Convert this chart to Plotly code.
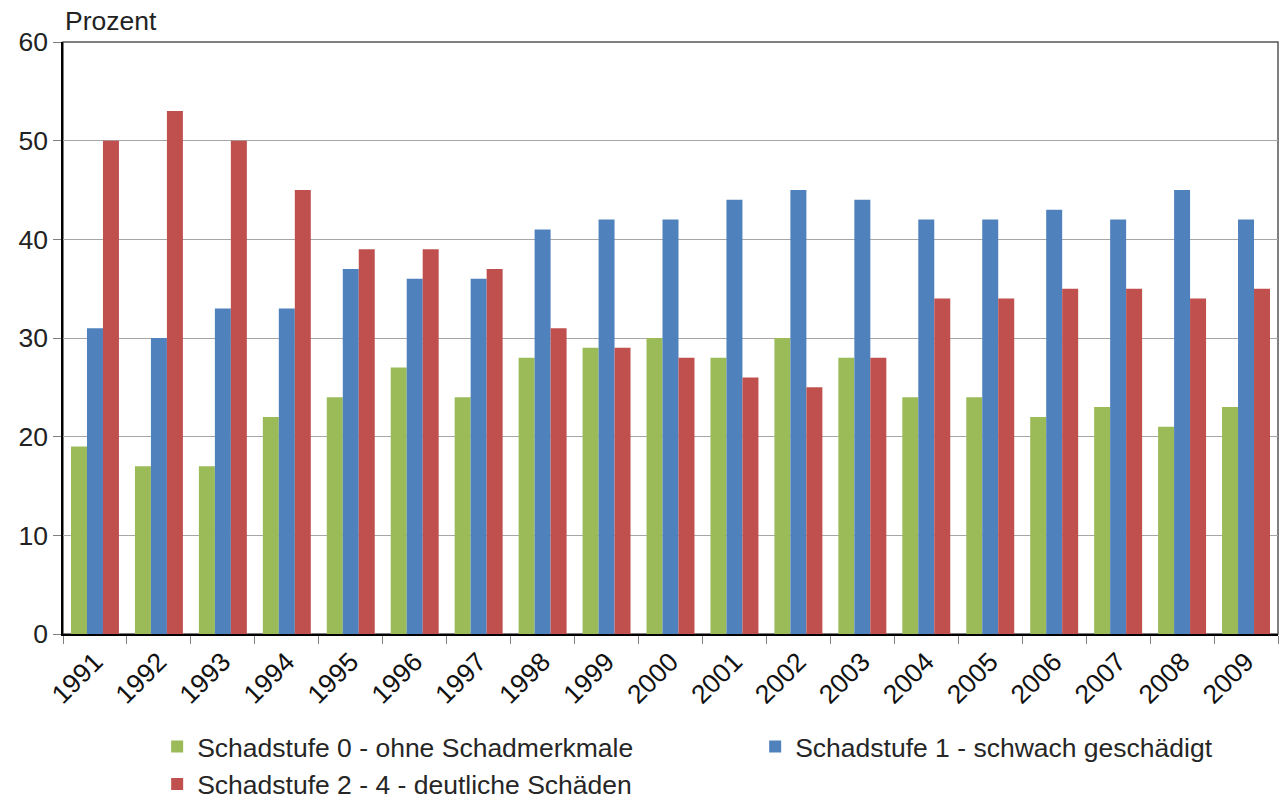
import plotly.graph_objects as go

# Kronenzustand: Anteil der Schadstufen je Erhebungsjahr (Prozent)
jahre = ["1991", "1992", "1993", "1994", "1995", "1996", "1997", "1998", "1999", "2000",
         "2001", "2002", "2003", "2004", "2005", "2006", "2007", "2008", "2009"]
stufe_0 = [19, 17, 17, 22, 24, 27, 24, 28, 29, 30, 28, 30, 28, 24, 24, 22, 23, 21, 23]
stufe_1 = [31, 30, 33, 33, 37, 36, 36, 41, 42, 42, 44, 45, 44, 42, 42, 43, 42, 45, 42]
stufe_2_4 = [50, 53, 50, 45, 39, 39, 37, 31, 29, 28, 26, 25, 28, 34, 34, 35, 35, 34, 35]

namen = ["Schadstufe 0 - ohne Schadmerkmale",
         "Schadstufe 1 - schwach geschädigt",
         "Schadstufe 2 - 4 - deutliche Schäden"]
farben = ["#9BBB59", "#4F81BD", "#C0504D"]
y_ticks = [0, 10, 20, 30, 40, 50, 60]

FONT = "Liberation Sans, Arial, sans-serif"
FS = 26.5

fig = go.Figure()
for name, werte, farbe in zip(namen, [stufe_0, stufe_1, stufe_2_4], farben):
    fig.add_trace(go.Bar(x=jahre, y=werte, name=name,
                         marker=dict(color=farbe, line=dict(width=0))))

fig.update_layout(
    width=1283, height=801,
    margin=dict(l=63, r=5, t=42, b=167, autoexpand=False),
    plot_bgcolor="white", paper_bgcolor="white",
    barmode="group", bargap=0.25, bargroupgap=0,
    font=dict(family=FONT, size=FS, color="#222222"),
    showlegend=True,
    legend=dict(orientation="h", x=0.0775, xanchor="left", y=-0.15, yanchor="top",
                entrywidth=553, entrywidthmode="pixels",
                font=dict(family=FONT, size=FS, color="#262626"),
                traceorder="normal", bgcolor="rgba(0,0,0,0)"),
    xaxis=dict(type="category", showgrid=False, showline=True, linecolor="black",
               linewidth=1.5, ticks="outside", tickson="boundaries", ticklen=8,
               tickcolor="#808080", tickangle=-45, automargin=False,
               tickfont=dict(family=FONT, size=FS, color="#111111")),
    yaxis=dict(range=[0, 60], tickvals=y_ticks, showgrid=True, gridcolor="#A6A6A6",
               gridwidth=1, showline=True, linecolor="black", linewidth=1.5,
               ticks="outside", ticklen=8, tickcolor="#808080",
               zeroline=False, automargin=False,
               tickfont=dict(family=FONT, size=FS, color="#222222")),
    annotations=[dict(text="Prozent", xref="paper", yref="paper", x=0, y=1,
                      xanchor="left", yanchor="bottom", yshift=4, showarrow=False,
                      font=dict(family=FONT, size=FS, color="#222222"))],
    shapes=[dict(type="rect", xref="paper", yref="paper", x0=0, x1=1, y0=0, y1=1,
                 line=dict(color="#555555", width=1.5), layer="below")],
)

fig.write_html("out.html")
